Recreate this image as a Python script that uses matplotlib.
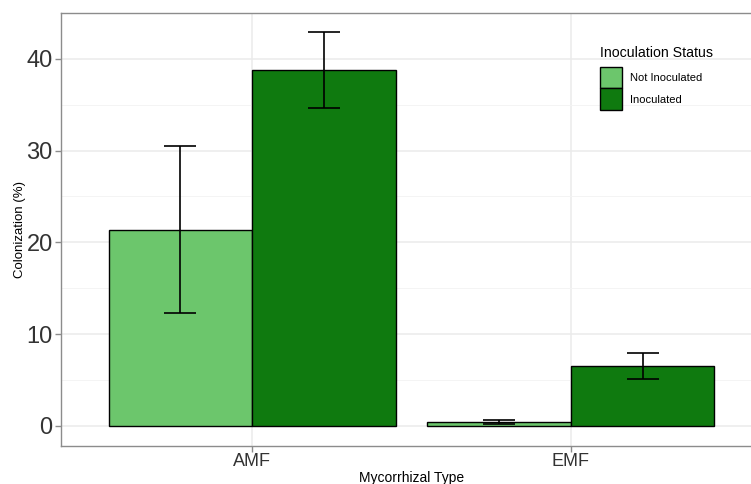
import matplotlib
matplotlib.use("Agg")
import matplotlib.pyplot as plt
from matplotlib.patches import Patch
import numpy as np

plt.rcParams['font.family'] = ['Liberation Sans', 'DejaVu Sans']

categories = ["AMF", "EMF"]
groups = ["Not Inoculated", "Inoculated"]
values = {
    "Not Inoculated": [21.4, 0.4],
    "Inoculated": [38.8, 6.5],
}
errors = {
    "Not Inoculated": [9.1, 0.25],
    "Inoculated": [4.15, 1.4],
}
colors = {"Not Inoculated": "#6CC66C", "Inoculated": "#0F7A0F"}

fig = plt.figure(figsize=(7.51, 4.84), dpi=100)
ax = fig.add_axes([61/751, 38/484, (762-61)/751, 433/484])

x = np.arange(1, len(categories) + 1)
w = 0.45
offsets = [-w/2, w/2]
for g, off in zip(groups, offsets):
    ax.bar(x + off, values[g], width=w, color=colors[g], edgecolor="black",
           linewidth=1.0, zorder=3)
for g, off in zip(groups, offsets):
    ax.errorbar(x + off, values[g], yerr=errors[g], fmt="none", ecolor="black",
                elinewidth=1.2, capsize=11.5, capthick=1.2, zorder=4)

ax.set_xlim(0.4, 2.6)
ax.set_ylim(-2.2, 45.0)
ax.set_xticks(x)
ax.set_xticklabels(categories)
ax.set_yticks([0, 10, 20, 30, 40])
ax.set_yticks([5, 15, 25, 35], minor=True)
ax.set_xticks([], minor=True)

ax.grid(True, which="major", color="#EBEBEB", linewidth=1.1, zorder=0)
ax.grid(True, which="minor", axis="y", color="#F3F3F3", linewidth=0.6, zorder=0)
ax.set_axisbelow(True)

for s in ax.spines.values():
    s.set_color("#8C8C8C")
    s.set_linewidth(1.0)

ax.tick_params(axis="y", which="major", labelsize=17, colors="#8C8C8C",
               labelcolor="#333333", length=4, width=1, pad=2)
ax.tick_params(axis="x", which="major", labelsize=13, colors="#8C8C8C",
               labelcolor="#333333", length=4, width=1, pad=1)
ax.tick_params(which="minor", length=0)

ax.set_ylabel("Colonization (%)", fontsize=9.5, color="black", labelpad=0)
ax.set_xlabel("Mycorrhizal Type", fontsize=10, color="black", labelpad=1)

handles = [Patch(facecolor=colors[g], edgecolor="black", linewidth=1.0) for g in groups]
leg = ax.legend(handles, groups, title="Inoculation Status", loc="upper left",
                bbox_to_anchor=(600/751, 1 - 46/484), bbox_transform=fig.transFigure,
                frameon=False, fontsize=8, title_fontsize=10.2,
                handlelength=2.0, handleheight=2.6, labelspacing=0.0,
                handletextpad=0.7, borderpad=0.0, borderaxespad=0.0,
                alignment="left")
leg._legend_box.sep = 5

fig.savefig("out.png", dpi=100)
